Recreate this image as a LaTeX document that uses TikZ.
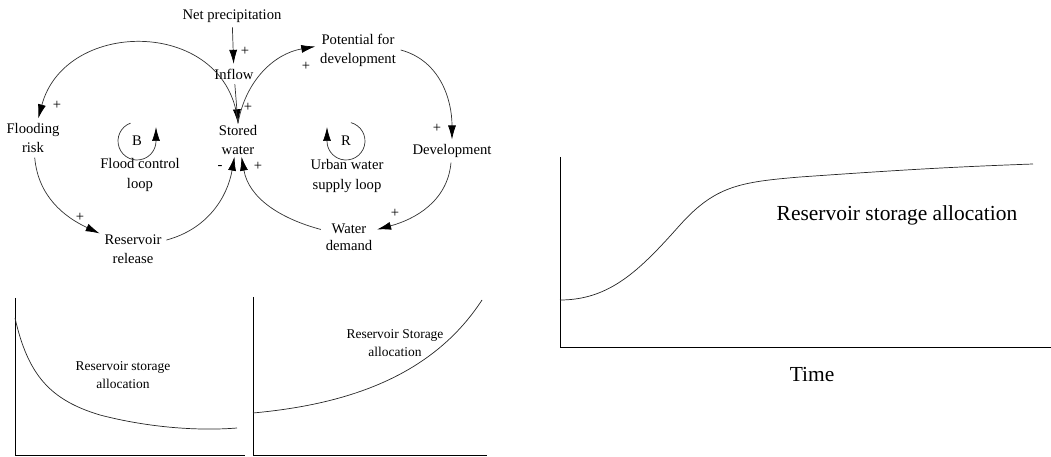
\documentclass[tikz,border=0pt]{standalone}
\usepackage{fontspec}
\setmainfont{Liberation Serif}
\usetikzlibrary{arrows.meta}

\begin{document}
\begin{tikzpicture}[x=0.03cm, y=0.03cm,
    txt/.style={align=center, inner sep=4pt, font=\fontsize{12.5}{16.3}\selectfont},
    sgn/.style={inner sep=0pt, font=\fontsize{12.5}{15}\selectfont},
    link/.style={draw=black!80, line width=0.6pt, -{Latex[length=4.2mm,width=2.4mm,color=black]}},
    axis/.style={line width=0.6pt},
    curve/.style={draw=black!85, line width=0.6pt},
    small/.style={align=center, font=\fontsize{11.5}{15.4}\selectfont},
    big/.style={font=\fontsize{18.3}{22}\selectfont}]

    \useasboundingbox (0,0) rectangle (1051,-457);


    \node[txt] (netp) at (232,-16) {Net precipitation};
    \node[txt] (inflow) at (234,-74) {Inflow};
    \node[txt, inner ysep=1.5pt] (stored) at (238,-140) {Stored\\water};
    \node[txt] (potential) at (358,-50) {Potential for\\development};
    \node[txt] (flood) at (33,-138) {Flooding\\risk};
    \node[txt] (release) at (133,-249) {Reservoir\\release};
    \node[txt] (develop) at (452,-151) {Development};
    \node[txt] (demand) at (349,-237) {Water\\[-2pt]demand};

    \node[txt] (bsym) at (137,-141) {B};
    \node[txt] (bloop) at (140,-175) {Flood control\\loop};
    \node[txt] (rsym) at (346,-141) {R};
    \node[txt] (rloop) at (347,-176) {Urban water\\supply loop};


    \draw[link] (netp) -- (inflow);
    \draw[link] (inflow) -- (stored.north);
    \draw[link] (stored.north) to[out=95, in=75, looseness=1.35] (flood);
    \draw[link] (flood) to[out=-85, in=155] (release);
    \draw[link] (release) to[out=15, in=-100] ([xshift=-3pt]stored.south);
    \draw[link] (stored.north) to[out=80, in=190] ([yshift=3pt]potential.west);
    \draw[link] (potential.east) to[out=-15, in=90] (develop);
    \draw[link] (develop) to[out=-95, in=15] (demand);
    \draw[link] (demand) to[out=165, in=-80] ([xshift=3pt]stored.south);

    \draw[link] (bsym.center) ++(110:19) arc[start angle=110, end angle=360, radius=19] -- ++(0,14);
    \draw[link] (rsym.center) ++(75:19) arc[start angle=75, end angle=-180, radius=19] -- ++(0,14);

    \node[sgn] (s1) at (245,-51) {+};
    \node[sgn] (s2) at (248,-107) {+};
    \node[sgn] (s3) at (306,-66) {+};
    \node[sgn] (s4) at (57,-105) {+};
    \node[sgn] (s5) at (80,-217) {+};
    \node[sgn] (s6) at (220,-168) {-};
    \node[sgn] (s7) at (258,-166) {+};
    \node[sgn] (s8) at (437,-128) {+};
    \node[sgn] (s9) at (395,-213) {+};


    \draw[axis] (15,-298) -- (15,-455) -- (245,-455);
    \draw[curve] (15,-318) .. controls (28,-375) and (50,-400) .. (100,-415) .. controls (150,-428) and (200,-431) .. (237,-428);
    \node[small] (alloc1) at (123,-375) {Reservoir storage\\allocation};

    \draw[axis] (253,-297) -- (253,-455) -- (487,-455);
    \draw[curve] (253,-413) .. controls (340,-405) and (430,-380) .. (482,-300);
    \node[small] (alloc2) at (395,-343) {Reservoir Storage\\allocation};

    \draw[axis] (560,-157) -- (560,-347) -- (1051,-347);
    \draw[curve] (560,-300) .. controls (610,-300) and (640,-270) .. (680,-225) .. controls (715,-186) and (740,-182) .. (800,-177) .. controls (900,-170) and (950,-167) .. (1033,-164);
    \node[big] (alloc3) at (897,-215) {Reservoir storage allocation};
    \node[big] (time) at (812,-375) {Time};
  \end{tikzpicture}
\end{document}
